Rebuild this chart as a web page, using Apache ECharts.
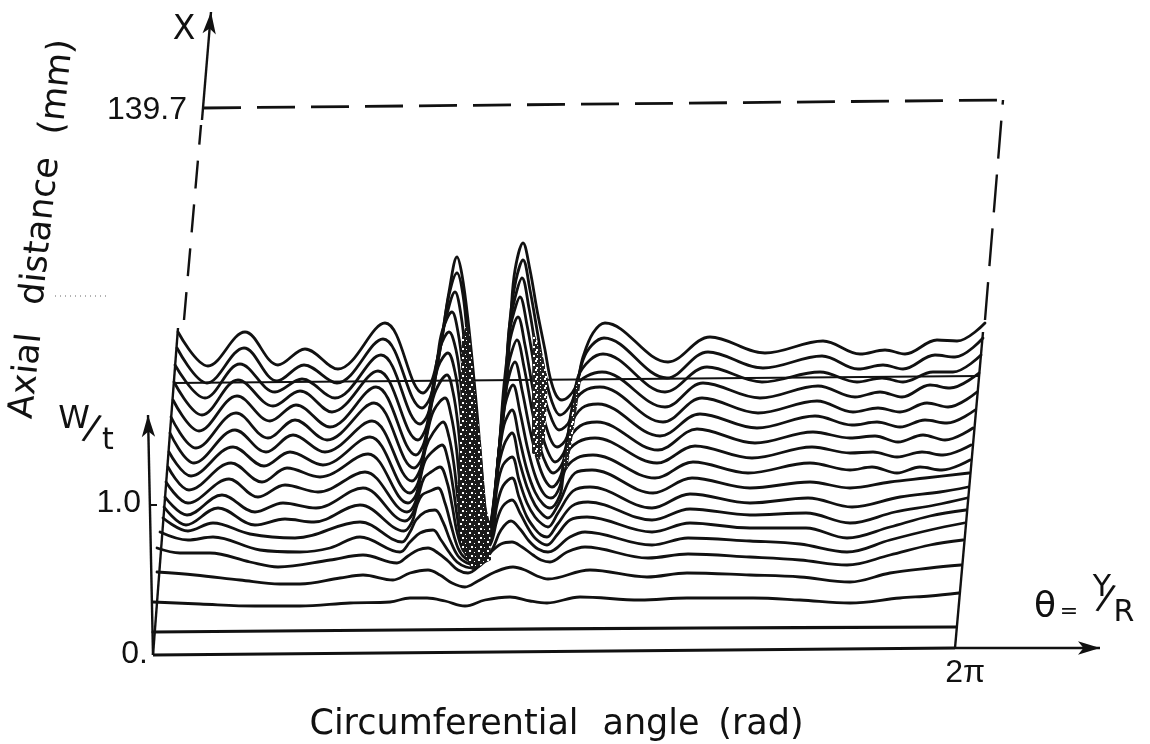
<!DOCTYPE html>
<html><head><meta charset="utf-8">
<style>html,body{margin:0;padding:0;background:#fff}#c{width:1150px;height:744px}</style>
<script src="https://cdn.jsdelivr.net/npm/echarts@6/dist/echarts.min.js"></script>
</head><body><div id="c"></div>
<script>
// Readings: [angle, height]; angle unit = 1/800 of 2*pi, height unit = 1/150 of W/t.
const curve01=[[20,323],[50,289],[87,323],[120,290],[147,306],[180,286],[227,332],[265,262],[273,272],[279,294],[285,325],[291,363],[299,398],[304,380],[310,335],[317,265],[322,208],[327,148],[330,133],[334,135],[342,208],[349,275],[353,342],[357,385],[365,412],[372,385],[379,345],[387,305],[392,278],[398,260],[404,255],[417,267],[425,298],[435,322],[447,332],[510,293],[552,318],[607,302],[665,314],[702,301],[727,305],[747,301],[779,315],[799,314],[827,332]];
const curve02=[[19,307],[49,272],[86,307],[119,274],[146,290],[179,272],[225,316],[264,247],[272,257],[278,283],[284,317],[291,360],[299,382],[305,360],[310,310],[315,245],[320,185],[325,135],[329,125],[333,133],[341,203],[348,270],[352,335],[358,375],[365,395],[372,365],[379,325],[386,285],[394,253],[402,240],[414,253],[425,295],[434,310],[446,317],[509,277],[550,303],[605,287],[664,299],[700,286],[725,290],[745,286],[777,300],[797,298],[825,317]];
const curve03=[[17,290],[47,257],[82,291],[117,263],[144,276],[177,257],[223,300],[262,231],[270,241],[276,270],[282,305],[288,337],[297,363],[303,340],[308,295],[313,235],[318,175],[323,130],[328,120],[333,131],[340,195],[347,260],[351,325],[357,357],[364,377],[371,347],[378,305],[386,260],[394,235],[401,225],[412,235],[420,278],[432,295],[445,301],[507,263],[549,288],[604,273],[662,283],[699,273],[724,277],[745,273],[775,283],[795,283],[823,300]];
const curve04=[[16,273],[44,240],[80,275],[115,249],[142,264],[174,243],[220,284],[260,215],[268,227],[273,255],[279,293],[284,323],[294,343],[300,323],[305,285],[310,225],[315,165],[322,125],[327,115],[333,130],[340,195],[347,265],[351,320],[356,343],[362,358],[369,330],[376,290],[384,245],[392,217],[399,208],[409,218],[419,270],[429,279],[444,283],[507,248],[545,272],[602,257],[660,269],[697,258],[722,263],[744,258],[772,270],[792,267],[821,282]];
const curve05=[[15,255],[41,224],[79,259],[112,234],[138,250],[172,228],[218,268],[258,200],[266,212],[271,240],[276,275],[282,307],[291,323],[298,305],[303,270],[308,215],[313,160],[319,120],[325,110],[333,130],[341,205],[346,270],[352,315],[360,338],[367,310],[375,265],[383,225],[390,203],[397,193],[407,205],[415,250],[426,264],[442,268],[505,233],[544,257],[600,242],[659,254],[695,243],[720,247],[742,243],[769,252],[790,248],[819,263]];
const curve06=[[13,238],[38,207],[78,242],[110,217],[137,235],[169,215],[216,252],[256,187],[264,197],[269,223],[274,255],[280,288],[290,302],[297,283],[302,250],[306,205],[311,150],[317,115],[323,107],[333,130],[341,205],[347,270],[352,297],[359,315],[366,288],[374,245],[382,208],[389,189],[395,182],[405,193],[413,230],[424,247],[440,251],[502,219],[542,241],[599,227],[657,239],[694,230],[719,233],[742,228],[767,235],[789,232],[817,245]];
const curve07=[[12,222],[36,192],[77,225],[108,203],[135,220],[167,203],[214,234],[254,174],[262,185],[267,208],[272,243],[278,265],[289,280],[295,263],[300,230],[304,185],[309,140],[315,110],[322,104],[333,128],[341,205],[347,260],[357,293],[364,265],[372,225],[380,193],[387,175],[394,168],[403,180],[410,213],[422,229],[439,233],[500,205],[539,226],[597,212],[655,223],[692,217],[717,219],[740,213],[765,220],[787,215],[815,227]];
const curve08=[[11,203],[33,179],[75,208],[106,189],[132,203],[165,190],[212,218],[252,162],[260,172],[265,197],[270,225],[276,245],[287,257],[293,240],[298,210],[302,170],[307,130],[313,108],[320,102],[333,127],[341,203],[347,250],[355,270],[362,243],[370,205],[378,177],[386,161],[393,157],[402,169],[408,200],[420,213],[437,217],[499,192],[537,209],[594,197],[654,208],[692,202],[715,203],[739,198],[764,203],[785,200],[813,210]];
const curve09=[[10,188],[31,165],[73,192],[104,173],[129,187],[162,178],[210,201],[250,152],[258,160],[263,183],[268,208],[275,222],[285,233],[291,218],[296,190],[300,155],[305,120],[312,104],[319,100],[333,125],[340,190],[346,230],[354,245],[361,218],[369,185],[377,163],[385,151],[392,147],[402,160],[407,185],[419,197],[435,200],[497,177],[535,193],[590,182],[652,192],[692,185],[714,188],[739,182],[762,188],[784,185],[812,195]];
const curve10=[[8,173],[30,152],[71,176],[100,158],[127,170],[160,163],[207,183],[249,143],[257,152],[262,175],[267,194],[274,203],[284,210],[290,195],[295,168],[299,140],[304,112],[311,102],[318,98],[333,123],[339,180],[346,210],[354,222],[361,195],[369,168],[377,150],[384,141],[390,137],[400,150],[417,182],[434,185],[495,162],[534,177],[592,167],[652,173],[692,167],[732,173],[767,177],[811,182]];
const curve11=[[7,158],[29,140],[64,160],[97,143],[125,152],[158,147],[205,167],[247,134],[255,142],[261,161],[266,177],[273,183],[282,188],[289,173],[294,150],[299,123],[305,105],[312,99],[318,95],[333,120],[339,167],[345,190],[354,198],[361,175],[369,152],[377,138],[384,131],[390,128],[400,142],[415,164],[432,168],[494,147],[532,161],[592,152],[650,157],[694,148],[742,158],[782,163],[810,168]];
const curve12=[[6,148],[28,130],[60,147],[97,130],[127,136],[156,133],[202,150],[246,124],[254,133],[259,150],[264,160],[272,164],[280,167],[287,152],[293,130],[300,107],[307,97],[317,93],[333,117],[339,150],[345,169],[354,177],[361,158],[369,138],[377,126],[383,120],[389,118],[399,130],[414,149],[430,153],[494,135],[532,146],[592,140],[648,142],[692,132],[737,143],[777,150],[809,157]];
const curve13=[[5,137],[30,124],[55,132],[92,121],[137,117],[202,133],[244,113],[252,123],[258,135],[267,143],[277,145],[285,133],[292,115],[300,99],[309,92],[318,90],[333,112],[339,135],[345,149],[354,155],[362,142],[370,127],[378,116],[389,110],[399,120],[412,135],[429,138],[494,123],[532,132],[592,127],[648,127],[689,117],[732,128],[772,139],[808,145]];
const curve14=[[2,123],[30,115],[55,118],[102,105],[142,103],[172,107],[202,118],[242,103],[252,113],[262,122],[275,125],[283,115],[291,103],[299,93],[308,88],[316,87],[326,93],[335,107],[343,125],[353,134],[362,126],[371,114],[380,106],[390,103],[412,118],[427,123],[494,110],[530,117],[592,114],[642,111],[689,103],[732,115],[772,125],[806,132]];
const curve15=[[-1,107],[22,102],[52,102],[92,93],[120,88],[172,95],[205,100],[239,92],[250,99],[260,105],[270,107],[280,102],[290,94],[300,85],[310,82],[320,88],[332,102],[343,111],[354,113],[364,108],[375,100],[383,95],[392,93],[409,103],[427,108],[490,97],[530,101],[592,98],[642,95],[689,90],[732,100],[772,110],[805,115]];
const curve16=[[-1,83],[37,80],[82,75],[122,71],[142,71],[182,77],[205,80],[235,75],[252,82],[270,85],[282,80],[294,72],[307,68],[320,74],[337,83],[355,88],[367,85],[379,79],[390,76],[432,85],[489,78],[529,82],[592,80],[642,78],[692,73],[732,82],[772,87],[803,90]];
const curve17=[[-5,53],[42,51],[97,49],[142,49],[192,52],[232,53],[252,57],[269,57],[287,54],[307,49],[327,55],[352,58],[372,54],[389,52],[422,58],[482,55],[529,57],[595,57],[642,55],[692,52],[742,57],[772,59],[801,62]];
const curve18=[[-5,23],[242,25],[542,27],[798,28]];
const curves=[curve01,curve02,curve03,curve04,curve05,curve06,curve07,curve08,curve09,curve10,curve11,curve12,curve13,curve14,curve15,curve16,curve17,curve18];

const baseLine=[[-5,0],[797,7]];
const leftEdge=[[-5,0],[20,327]];
const rightEdge=[[797,7],[825,323]];
const lastStation=[[16,272],[820,279]];
const dashLeft=[[26,335],[43,530]];
const dashTop=[[45,547],[845,555]];
const dashRight=[[827,335],[845,555]];
const thetaArrow=[[797,7],[942,7]];
const wArrow=[[-5,0],[-10,240]];
const xArrow=[[44,535],[53,643]];
const wTick=[[-8,150],[-1,150]];
const scanDots=[[-103,359],[-51,359]];
const stippleDense=[[304,318],[310,335],[317,265],[323,208],[328,148],[332,132],[333,95],[314,85],[304,105],[299,152],[302,238]];
const stippleLightA=[[375,325],[385,298],[390,275],[387,218],[382,195],[374,202],[374,275]];
const stippleLightB=[[419,275],[423,275],[414,215],[409,185],[405,190],[410,215]];
const tickLabels=[{at:[-8,1],text:'0.'},{at:[-15,152],text:'1.0'},{at:[31,545],text:'139.7'},{at:[829,-18],text:'2π'}];

const U=2*Math.PI/800, H=1/150;
const P=p=>[p[0]*U,p[1]*H];
const ink='#111';

function pat(bg,spots){const c=document.createElement('canvas');c.width=c.height=9;const g=c.getContext('2d');g.fillStyle=bg;g.fillRect(0,0,9,9);g.fillStyle='#fff';spots.forEach(s=>g.fillRect(s[0],s[1],s[2],s[2]));return {image:c,repeat:'repeat'};}
const densePat=pat('#1a1a1a',[[1,1,2],[6,3,1],[3,6,2],[7,7,1]]);
const lightPat=pat('#222',[[0,1,1],[4,0,2],[6,3,1],[2,4,2],[0,7,1],[5,7,2]]);

const lines=curves.map((c,i)=>({type:'line',data:c.map(P),smooth:0.36,showSymbol:false,silent:true,z:3,
  lineStyle:{color:ink,width:i===17?3.2:2.8,cap:'round',join:'round'}}));
const straight=(d,w,type,col)=>({type:'line',data:d.map(P),showSymbol:false,silent:true,z:4,lineStyle:{color:col||ink,width:w,type:type||'solid'}});
const poly=(pts,fill)=>({type:'custom',coordinateSystem:'cartesian2d',silent:true,z:5,data:pts.map(P),
  renderItem:(params,api)=>{ if(params.dataIndex!==0) return null;
    return {type:'polygon',shape:{points:pts.map(P).map(q=>api.coord(q))},style:{fill:fill}};},
  encode:{x:0,y:1}});
const txt=(text,x,y,size,extra)=>Object.assign({type:'text',x:x,y:y,style:{text:text,font:size+'px "DejaVu Sans"',fill:ink,textAlign:'center',textVerticalAlign:'middle'}},extra||{});
const tilt={rotation:83.9*Math.PI/180};

const chart=echarts.init(document.getElementById('c'),null,{renderer:'canvas'});
chart.setOption({
  animation:false,backgroundColor:'#fff',
  grid:{left:0,right:0,top:0,bottom:0},
  xAxis:{type:'value',min:-158*U,max:992*U,show:false},
  yAxis:{type:'value',min:-89*H,max:655*H,show:false},
  series:[...lines,
    straight(baseLine,2.8),straight(leftEdge,2.4),straight(rightEdge,2.4),straight(lastStation,2.2),straight(wTick,2),
    straight(dashLeft,2.4,[28,16]),straight(dashTop,2.8,[38,16]),straight(dashRight,2.4,[38,16]),
    straight(scanDots,1.5,[1,4],'#999'),
    poly(stippleDense,densePat),poly(stippleLightA,lightPat),poly(stippleLightB,lightPat),
    {type:'line',data:[],silent:true,markLine:{silent:true,animation:false,symbol:['none','arrow'],symbolSize:[10,22],label:{show:false},
      lineStyle:{color:ink,width:2.4,type:'solid'},
      data:[thetaArrow,wArrow,xArrow].map(a=>[{coord:P(a[0])},{coord:P(a[1])}])}},
    {type:'scatter',itemStyle:{opacity:1},data:tickLabels.map(d=>({value:P(d.at),label:{show:true,formatter:d.text,position:'left',distance:2,opacity:1,
        color:ink,fontFamily:'Liberation Sans',fontSize:32}})),symbolSize:0,silent:true,z:6}
  ],
  graphic:[
    txt('Axial',27,376,35,tilt),txt('distance',41,231,35,tilt),txt('(mm)',58,87,35,tilt),
    txt('Circumferential',444,725,35),txt('angle',651,725,35),txt('(rad)',761,725,35),
    txt('X',184,30,33),
    txt('W',74,420,32),txt('/',91,430,36,{rotation:-0.3}),txt('t',108,441,30),
    txt('θ',1045,608,36),txt('=',1069,612,22),txt('Y',1102,588,30),txt('/',1105,600,36,{rotation:-0.3}),txt('R',1124,613,30)
  ]
});
</script></body></html>
